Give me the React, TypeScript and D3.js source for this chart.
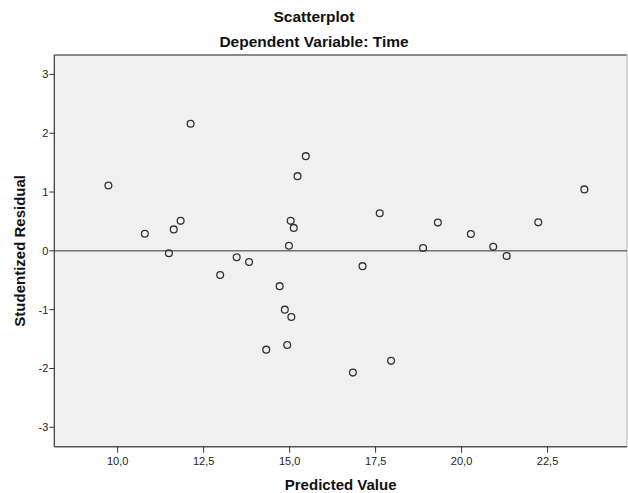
import React from "react";
import * as d3 from "d3";

const predicted: number[] = [
  9.73, 10.79, 11.49, 11.63, 11.83, 12.12, 12.98, 13.46, 13.82, 14.32,
  14.71, 14.86, 14.93, 14.98, 15.03, 15.05, 15.12, 15.23, 15.47, 16.84,
  17.12, 17.62, 17.95, 18.88, 19.31, 20.27, 20.92, 21.31, 22.23, 23.57,
];
const residual: number[] = [
  1.11, 0.29, -0.04, 0.365, 0.51, 2.16, -0.41, -0.11, -0.19, -1.68,
  -0.6, -1.0, -1.6, 0.087, 0.51, -1.125, 0.39, 1.27, 1.61, -2.07,
  -0.26, 0.64, -1.87, 0.048, 0.48, 0.286, 0.07, -0.088, 0.485, 1.045,
];
const xTicks: number[] = [10, 12.5, 15, 17.5, 20, 22.5];
const yTicks: number[] = [3, 2, 1, 0, -1, -2, -3];
const title = "Scatterplot";
const subtitle = "Dependent Variable: Time";
const xTitle = "Predicted Value";
const yTitle = "Studentized Residual";

const W = 628;
const H = 493;
const left = 54.3;
const right = 627;
const top = 55;
const bottom = 446.7;
const font = "'Liberation Sans', Arial, sans-serif";

export default function App() {
  const x = d3.scaleLinear().domain([8.157, 24.81]).range([left, right]);
  const y = d3.scaleLinear().domain([-3.33, 3.33]).range([bottom, top]);
  const fmt = (v: number) => d3.format(".1f")(v).replace(".", ",");
  return (
    <svg
      width={W}
      height={H}
      style={{ position: "absolute", left: 0, top: 0, background: "#fff" }}
    >
      <text x={314} y={22} textAnchor="middle" fontFamily={font} fontWeight="bold" fontSize={15.5} fill="#111">
        {title}
      </text>
      <text x={314} y={47} textAnchor="middle" fontFamily={font} fontWeight="bold" fontSize={15.5} fill="#111">
        {subtitle}
      </text>
      <rect x={left} y={top} width={right - left} height={bottom - top} fill="#f0f0f0" />
      <line x1={left} x2={right} y1={top} y2={top} stroke="#8a8a8a" strokeWidth={2} />
      <line x1={right} x2={right} y1={top} y2={bottom} stroke="#b4b4b4" strokeWidth={1} />
      <line x1={left} x2={left} y1={top} y2={bottom} stroke="#444" strokeWidth={1.3} />
      <line x1={left} x2={right} y1={bottom} y2={bottom} stroke="#555" strokeWidth={1.5} />
      <line x1={left} x2={right} y1={y(0)} y2={y(0)} stroke="#333" strokeWidth={1} />
      {yTicks.map((t) => (
        <g key={"y" + t}>
          <line x1={left - 5} x2={left} y1={y(t)} y2={y(t)} stroke="#333" strokeWidth={1} />
          <text x={left - 6} y={y(t) + 4} textAnchor="end" fontFamily={font} fontSize={11} fill="#222">
            {String(t)}
          </text>
        </g>
      ))}
      {xTicks.map((t) => (
        <g key={"x" + t}>
          <line x1={x(t)} x2={x(t)} y1={bottom} y2={bottom + 6} stroke="#333" strokeWidth={1} />
          <text x={x(t)} y={bottom + 18.5} textAnchor="middle" fontFamily={font} fontSize={11} fill="#222">
            {fmt(t)}
          </text>
        </g>
      ))}
      <text x={(left + right) / 2} y={489.5} textAnchor="middle" fontFamily={font} fontWeight="bold" fontSize={15} fill="#111">
        {xTitle}
      </text>
      <text
        transform={`translate(24.5,${(top + bottom) / 2}) rotate(-90)`}
        textAnchor="middle"
        fontFamily={font}
        fontWeight="bold"
        fontSize={15}
        fill="#111"
      >
        {yTitle}
      </text>
      {predicted.map((p, i) => (
        <circle key={i} cx={x(p)} cy={y(residual[i])} r={3.4} fill="none" stroke="#333" strokeWidth={1.3} />
      ))}
    </svg>
  );
}
